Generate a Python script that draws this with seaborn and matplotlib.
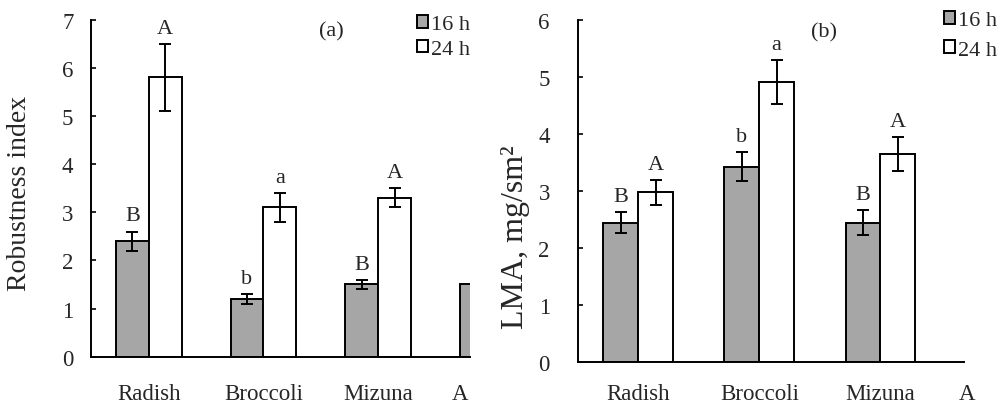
import numpy as np
import pandas as pd
import matplotlib
matplotlib.use("Agg")
import matplotlib.pyplot as plt
import seaborn as sns

categories = ["Radish", "Broccoli", "Mizuna", "A"]
hours = ["16 h", "24 h"]

ri_16 = [2.4, 1.2, 1.5, 1.5]
ri_24 = [5.8, 3.1, 3.3, np.nan]
ri_16_err = [0.2, 0.1, 0.1, np.nan]
ri_24_err = [0.7, 0.3, 0.2, np.nan]
ri_16_letters = ["B", "b", "B", ""]
ri_24_letters = ["A", "a", "A", ""]

lma_16 = [2.45, 3.43, 2.45, np.nan]
lma_24 = [2.98, 4.91, 3.65, np.nan]
lma_16_err = [0.18, 0.26, 0.22, np.nan]
lma_24_err = [0.22, 0.39, 0.29, np.nan]
lma_16_letters = ["B", "b", "B", ""]
lma_24_letters = ["A", "a", "A", ""]

GRAY = "#a6a6a6"
LW = 1.4
GROUP_W = 0.575
FS = 16.5

sns.set_style("ticks")
plt.rcParams["font.family"] = ["Liberation Serif", "DejaVu Serif"]

fig = plt.figure(figsize=(10.01, 4.06), dpi=100)
ax_a = fig.add_axes([0.0914, 0.119, 0.378, 0.830])
ax_b = fig.add_axes([0.577, 0.1047, 0.386, 0.844])


def panel(ax, v16, v24, e16, e24, l16, l24, ylim, yticks, xmax, ylabel,
          ylabel_xy, ylabel_size, ytick_pad, xtick_pad, tag, tag_xy,
          leg_anchor, leg_spacing):
    df = pd.DataFrame({
        "cat": categories * 2,
        "hour": [hours[0]] * len(categories) + [hours[1]] * len(categories),
        "val": list(v16) + list(v24),
    })
    sns.barplot(data=df, x="cat", y="val", hue="hour", order=categories,
                hue_order=hours, palette={hours[0]: GRAY, hours[1]: "white"},
                edgecolor="black", linewidth=LW, width=GROUP_W, gap=0,
                errorbar=None, saturation=1, ax=ax)
    bw = GROUP_W / 2
    idx = np.arange(len(categories))
    for j, (vals, errs, lets) in enumerate([(v16, e16, l16), (v24, e24, l24)]):
        xs = idx + (j - 0.5) * bw
        vals = np.asarray(vals, float)
        errs = np.asarray(errs, float)
        ok = np.isfinite(vals) & np.isfinite(errs)
        ax.errorbar(xs[ok], vals[ok], yerr=errs[ok], fmt="none", ecolor="black",
                    elinewidth=LW, capsize=4.3, capthick=LW, zorder=5)
        for x, v, e, t in zip(xs, vals, errs, lets):
            if t and np.isfinite(v):
                ax.annotate(t, (x, v + e), xytext=(0, 8), textcoords="offset points",
                            ha="center", va="baseline", fontsize=16,
                            annotation_clip=False)
    ax.set_xlim(-0.5, xmax)
    ax.set_ylim(*ylim)
    ax.set_yticks(yticks)
    ax.set_xticks(idx[:3])
    ax.set_xticklabels(categories[:3], fontsize=FS)
    ax.annotate(categories[3], (idx[3] - bw, 0), xycoords=("data", "axes fraction"),
                xytext=(0, -xtick_pad), textcoords="offset points",
                ha="center", va="top", fontsize=FS, annotation_clip=False)
    ax.tick_params(axis="x", length=0, pad=xtick_pad)
    ax.tick_params(axis="y", direction="in", length=3.6, width=LW,
                   pad=ytick_pad, labelsize=FS)
    ax.set_xlabel("")
    ax.set_ylabel(ylabel, fontsize=ylabel_size)
    ax.yaxis.set_label_coords(*ylabel_xy)
    for s in ["top", "right"]:
        ax.spines[s].set_visible(False)
    for s in ["left", "bottom"]:
        ax.spines[s].set_linewidth(LW)
        ax.spines[s].set_color("black")
    ax.text(tag_xy[0], tag_xy[1], tag, transform=ax.transAxes, ha="center",
            va="center", fontsize=16)
    handles, labels = ax.get_legend_handles_labels()
    ax.legend(handles, labels, loc="upper left", bbox_to_anchor=leg_anchor,
              bbox_transform=fig.transFigure, frameon=False, fontsize=16,
              handlelength=0.5, handleheight=0.5, handletextpad=0.15,
              labelspacing=leg_spacing, borderpad=0, borderaxespad=0)


panel(ax_a, ri_16, ri_24, ri_16_err, ri_24_err, ri_16_letters, ri_24_letters,
      (0, 7), range(0, 8), 2.80, "Robustness index", (-0.157, 0.486), 20,
      13, 19, "(a)", (0.635, 0.966), (0.4166, 0.9606), 0.25)
panel(ax_b, lma_16, lma_24, lma_16_err, lma_24_err, lma_16_letters, lma_24_letters,
      (0, 6), range(0, 7), 2.69, "LMA, mg/sm²", (-0.123, 0.37), 23,
      20, 14.5, "(b)", (0.638, 0.966), (0.943, 0.970), 0.45)

fig.savefig("out.png", dpi=100)
